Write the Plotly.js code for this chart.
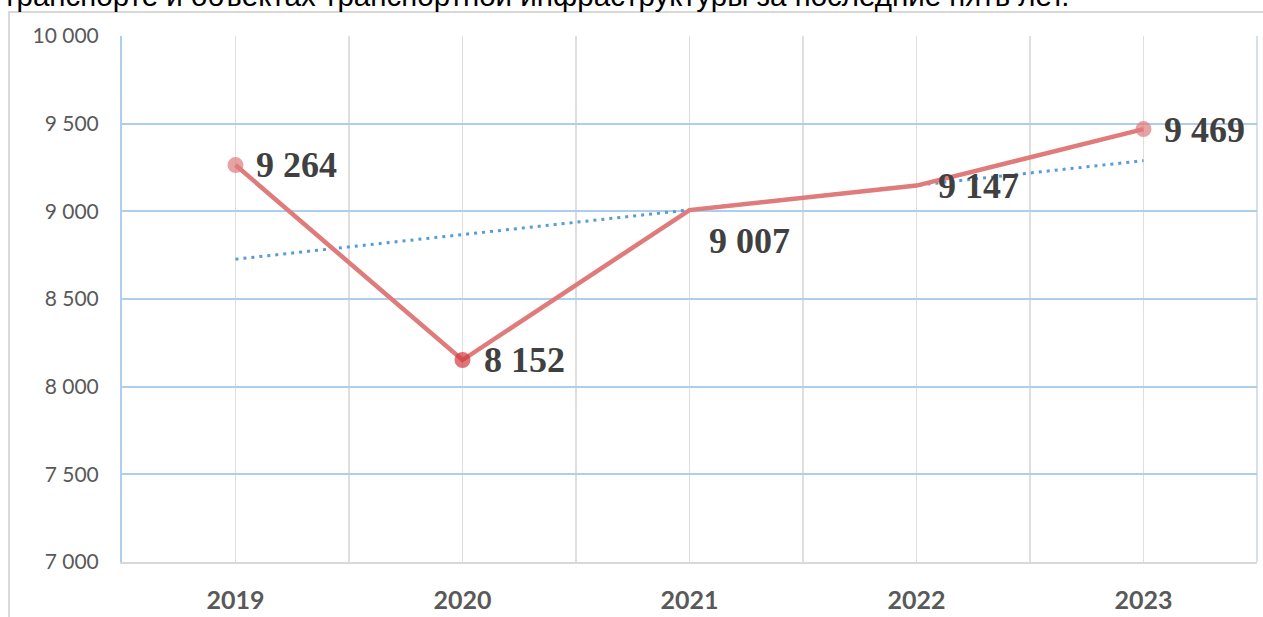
<!DOCTYPE html>
<html>
<head>
<meta charset="utf-8">
<script src="https://cdn.plot.ly/plotly-3.0.1.min.js"></script>
<style>
html,body{margin:0;padding:0;background:#fff;overflow:hidden;}
#chart{width:1263px;height:617px;}
</style>
</head>
<body>
<div id="chart"></div>
<script>
// ---- data ----
const years = [2019, 2020, 2021, 2022, 2023];
const values = [9264, 8152, 9007, 9147, 9469];
const trendYears = [2019, 2023];
const trendValues = [8727, 9289];
const yTickVals = [7000, 7500, 8000, 8500, 9000, 9500, 10000];
const headerText = 'транспорте и объектах транспортной инфраструктуры за последние пять лет.';

// ---- styles ----
const markerSizes = [16, 16, 0, 0, 16];
const markerColors = ['#e07b7c', '#d23a3f', '#e07b7c', '#e07b7c', '#e07b7c'];
const labelShift = [[61, 0], [62, 0], [60, -31], [62, 0], [61, -1]];

function fmt(v) { return String(v).replace(/\B(?=(\d{3})+(?!\d))/g, ' '); }

const W = 1263, H = 617, L = 122, R = 6, T = 36, B = 55;
const pw = W - L - R, ph = H - T - B;
const px = x => (x - L) / pw;
const py = y => (H - B - y) / ph;

const traces = [
  {
    x: trendYears, y: trendValues, type: 'scatter', mode: 'lines',
    line: {color: '#5b9bd5', width: 3, dash: '3px,5px'},
    hoverinfo: 'skip'
  },
  {
    x: years, y: values, type: 'scatter', mode: 'lines+markers',
    line: {color: '#e07b7c', width: 4.5},
    marker: {size: markerSizes, color: markerColors, line: {width: 0}},
    hoverinfo: 'skip'
  }
];

const annotations = years.map((yr, i) => ({
  x: yr, y: values[i], xref: 'x', yref: 'y', text: fmt(values[i]),
  showarrow: false, xanchor: 'center', yanchor: 'middle',
  xshift: labelShift[i][0], yshift: labelShift[i][1],
  font: {family: 'Liberation Serif, Times New Roman, serif', size: 36, color: '#404040', weight: 'bold'}
}));
annotations.push({
  xref: 'paper', yref: 'paper', x: px(1), y: py(14), xanchor: 'left', yanchor: 'bottom',
  text: headerText, showarrow: false,
  font: {family: 'Liberation Sans, Arial, sans-serif', size: 29.5, color: '#000'}
});

const layout = {
  width: W, height: H,
  margin: {l: L, r: R, t: T, b: B, pad: 0},
  paper_bgcolor: '#fff', plot_bgcolor: '#fff',
  showlegend: false,
  separators: '. ',
  xaxis: {
    range: [2018.5, 2023.5], tickvals: years, ticktext: years.map(String),
    showgrid: true, gridcolor: '#dedede', gridwidth: 1.5,
    minor: {tickvals: [2018.5, 2019.5, 2020.5, 2021.5, 2022.5, 2023.5], showgrid: true, gridcolor: '#dedede', gridwidth: 1.5, ticks: ''},
    showline: true, linecolor: '#d9d9d9', linewidth: 2,
    ticks: '', zeroline: false, fixedrange: true,
    tickfont: {family: 'Lato, Calibri, sans-serif', size: 25, color: '#595959', weight: 'bold'},
    ticklabelstandoff: 15
  },
  yaxis: {
    range: [7000, 10000], tickvals: yTickVals, tickformat: ',d',
    showgrid: true, gridcolor: '#afcdec', gridwidth: 2,
    showline: true, linecolor: '#afcdec', linewidth: 2,
    ticks: '', zeroline: false, fixedrange: true,
    tickfont: {family: 'Lato, Calibri, sans-serif', size: 21, color: '#595959'},
    ticklabelstandoff: 17
  },
  annotations: annotations,
  shapes: [
    {type: 'path', xref: 'paper', yref: 'paper',
     path: `M ${px(9)} ${py(640)} L ${px(9)} ${py(12)} L ${px(1270)} ${py(12)}`,
     line: {color: '#d9d9d9', width: 2}, layer: 'below'},
    {type: 'line', xref: 'paper', yref: 'paper', x0: 1, x1: 1, y0: 0, y1: 1,
     line: {color: '#d5e1ee', width: 2}, layer: 'below'}
  ]
};

Plotly.newPlot('chart', traces, layout, {staticPlot: true, displayModeBar: false});
</script>
</body>
</html>
